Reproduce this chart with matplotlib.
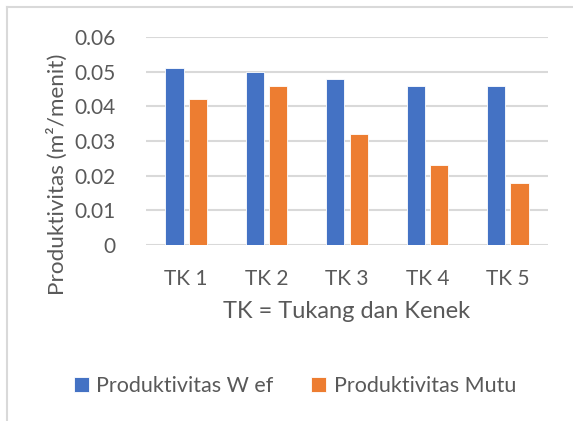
import matplotlib
matplotlib.use("Agg")
import matplotlib.pyplot as plt
import numpy as np

categories = ["TK 1", "TK 2", "TK 3", "TK 4", "TK 5"]
wef = [0.051, 0.050, 0.048, 0.046, 0.046]
mutu = [0.042, 0.046, 0.032, 0.023, 0.018]
yticks = [0, 0.01, 0.02, 0.03, 0.04, 0.05, 0.06]
ytick_labels = ["0", "0.01", "0.02", "0.03", "0.04", "0.05", "0.06"]

plt.rcParams['font.family'] = ['Lato', 'DejaVu Sans']
txt = '#595959'
W, H = 573, 421
fig = plt.figure(figsize=(W/100, H/100), dpi=100)
ax = fig.add_axes([146/W, 1-245/H, (548-146)/W, (245-37)/H])

x = np.arange(len(categories))
bw = 0.225
b1 = ax.bar(x - 0.145, wef, bw, color='#4472C4', edgecolor='white', linewidth=0.6, label='Produktivitas W ef', zorder=3)
b2 = ax.bar(x + 0.145, mutu, bw, color='#ED7D31', edgecolor='white', linewidth=0.6, label='Produktivitas Mutu', zorder=3)

ax.set_xlim(-0.5, 4.5)
ax.set_ylim(0, 0.06)
ax.set_yticks(yticks)
ax.set_yticklabels(ytick_labels)
ax.set_xticks(x)
ax.set_xticklabels(categories)
for s in ax.spines.values():
    s.set_visible(False)
ax.yaxis.grid(True, color='#d9d9d9', linewidth=1.5, zorder=0)
ax.set_axisbelow(True)
ax.tick_params(axis='both', length=0, labelsize=15, colors=txt)
ax.tick_params(axis='y', pad=22)
ax.tick_params(axis='x', pad=17)
ax.set_xlabel("TK = Tukang dan Kenek", fontsize=17, color=txt, labelpad=9)
yl = ax.set_ylabel("Produktivitas (m²/menit)", fontsize=16.2, color=txt)
yl.set_verticalalignment('center')
ax.yaxis.set_label_coords((57.5 - 146) / 402, (245 - 174) / 208)

fig.legend(handles=[b1, b2], loc='center', bbox_to_anchor=(0.515, 1-386/H), ncol=2,
           frameon=False, fontsize=15.5, labelcolor=txt, handlelength=0.68, handleheight=0.68,
           handletextpad=0.35, columnspacing=1.75)

# chart border (partially visible)
fig.add_artist(plt.Line2D([7/W, 7/W], [0, 1-7/H], color='#d9d9d9', linewidth=1.5, transform=fig.transFigure))
fig.add_artist(plt.Line2D([7/W, 1], [1-7/H, 1-7/H], color='#d9d9d9', linewidth=1.5, transform=fig.transFigure))

fig.savefig("out.png", dpi=100)
